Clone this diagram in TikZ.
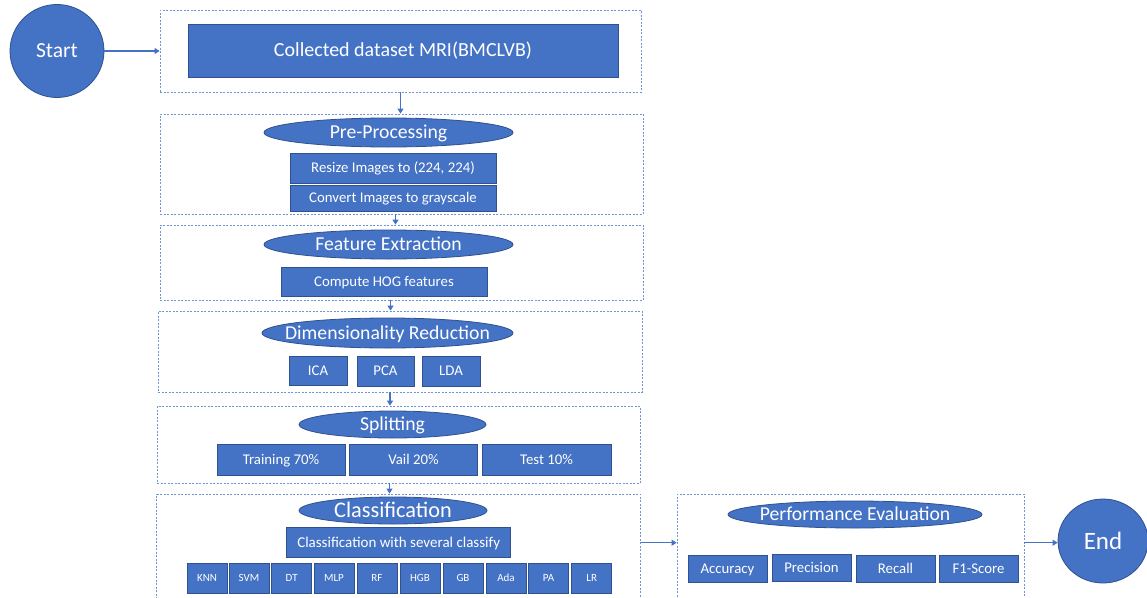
\documentclass[tikz,border=0pt]{standalone}
\usepackage{fontspec}
\setmainfont{Carlito}
\usetikzlibrary{shapes.geometric,arrows.meta}
\definecolor{ofblue}{HTML}{4472C4}
\definecolor{ofborder}{HTML}{2F528F}
\definecolor{dashblue}{HTML}{6F94D6}
\newcommand{\hdtext}[1]{\makebox[0pt]{#1}}
\tikzset{
  bluebox/.style={rectangle, fill=ofblue, draw=ofborder, line width=0.8pt, text=white, inner sep=0pt, text height=9.5pt, text depth=0pt, font=\fontsize{14.8}{16}\selectfont},
  header/.style={ellipse, fill=ofblue, draw=ofborder, line width=0.8pt, text=white, inner sep=0pt, text height=12.7pt, text depth=0pt, font=\fontsize{19.7}{22}\selectfont},
  groupbox/.style={rectangle, draw=dashblue, line width=0.8pt, dash pattern=on 2pt off 1.5pt, inner sep=0pt},
  flow/.style={draw=ofblue, line width=1.1pt, -{Triangle[width=6pt,length=5pt]}},
  clfbox/.style={bluebox, minimum width=40pt, minimum height=30pt, text height=7.1pt, font=\fontsize{11}{12}\selectfont},
}
\begin{document}
\begin{tikzpicture}[x=1pt,y=-1pt]
\useasboundingbox (0,0) rectangle (1147,597);
\clip (0,0) rectangle (1147,597);
\fill[white] (0,0) rectangle (1147,597);

% Start
\node[header, minimum width=94pt, minimum height=93pt, text height=13.8pt, font=\fontsize{21.5}{24}\selectfont] (start) at (57,51) {Start};

% Group 1
\node[groupbox, minimum width=481pt, minimum height=82pt] (g1) at (400.5,51) {};
\node[bluebox, minimum width=430pt, minimum height=53pt, text height=12.9pt, font=\fontsize{20}{22}\selectfont] (data) at (403,50.5) {Collected dataset MRI(BMCLVB)};

% Group 2
\node[groupbox, minimum width=483pt, minimum height=100pt] (g2) at (401.5,164) {};
\node[header, minimum width=249pt, minimum height=29pt] (pre) at (388.5,132.5) {\hdtext{Pre-Processing}};
\node[bluebox, minimum width=206pt, minimum height=30pt] (resize) at (393,168) {Resize Images to (224, 224)};
\node[bluebox, minimum width=206pt, minimum height=26pt] (convert) at (393,198) {Convert Images to grayscale};

% Group 3
\node[groupbox, minimum width=483pt, minimum height=75pt] (g3) at (401.5,262.5) {};
\node[header, minimum width=249pt, minimum height=29pt] (feat) at (388.5,244.5) {\hdtext{Feature Extraction}};
\node[bluebox, minimum width=206pt, minimum height=29pt] (hog) at (384,281.5) {Compute HOG features};

% Group 4
\node[groupbox, minimum width=484pt, minimum height=81pt] (g4) at (400,351.5) {};
\node[header, minimum width=251pt, minimum height=30pt] (dim) at (387.5,333) {\hdtext{Dimensionality Reduction}};
\node[bluebox, minimum width=58pt, minimum height=29pt] (ica) at (318,370.5) {ICA};
\node[bluebox, minimum width=57pt, minimum height=30pt] (pca) at (385.5,371) {PCA};
\node[bluebox, minimum width=58pt, minimum height=30pt] (lda) at (451,371) {LDA};

% Group 5
\node[groupbox, minimum width=483pt, minimum height=77pt] (g5) at (398.5,444.5) {};
\node[header, minimum width=187pt, minimum height=27pt] (split) at (392.5,424.5) {\hdtext{Splitting}};
\node[bluebox, minimum width=128pt, minimum height=31pt] (train) at (281,460) {Training 70\%};
\node[bluebox, minimum width=128pt, minimum height=31pt] (vail) at (413.5,460) {Vail 20\%};
\node[bluebox, minimum width=129pt, minimum height=31pt] (test) at (546.5,460) {Test 10\%};

% Group 6
\node[groupbox, minimum width=484pt, minimum height=126pt] (g6) at (398.5,557) {};
\node[header, minimum width=188pt, minimum height=27pt, text height=14.4pt, font=\fontsize{22.3}{24}\selectfont] (clf) at (393,510.5) {\hdtext{Classification}};
\node[bluebox, minimum width=224pt, minimum height=30pt, text height=9.7pt, font=\fontsize{15}{16}\selectfont] (several) at (398.7,542.7) {Classification with several classify};
\node[clfbox] (knn) at (207,578) {KNN};
\node[clfbox] (svm) at (249,578) {SVM};
\node[clfbox] (dt) at (291.7,578) {DT};
\node[clfbox] (mlp) at (334,578) {MLP};
\node[clfbox] (rf) at (377,578) {RF};
\node[clfbox] (hgb) at (420,578) {HGB};
\node[clfbox] (gb) at (463,578) {GB};
\node[clfbox] (ada) at (506,578) {Ada};
\node[clfbox] (pa) at (548.5,578) {PA};
\node[clfbox] (lr) at (591.7,578) {LR};

% Performance group
\node[groupbox, minimum width=347pt, minimum height=126pt] (gp) at (850.5,557) {};
\node[header, minimum width=254pt, minimum height=27pt] (perf) at (855,514.5) {\hdtext{Performance Evaluation}};
\node[bluebox, minimum width=79pt, minimum height=27pt] (acc) at (727.5,568.5) {Accuracy};
\node[bluebox, minimum width=79pt, minimum height=27pt] (prec) at (811.5,568) {Precision};
\node[bluebox, minimum width=79pt, minimum height=27pt] (rec) at (895.5,568.5) {Recall};
\node[bluebox, minimum width=79pt, minimum height=27pt] (f1) at (978.5,568.5) {F1-Score};

% End
\node[header, minimum width=90pt, minimum height=84pt, text height=16.1pt, font=\fontsize{25}{27}\selectfont] (endn) at (1103,541) {End};

% Connectors
\draw[flow] (start.east) -- (g1.west);
\draw[flow] (g1.south) -- (g1.south |- g2.north);
\draw[flow] ([xshift=-6pt]g2.south) -- ([xshift=-6pt]g2.south |- g3.north);
\draw[flow] ([xshift=-11pt]g3.south) -- ([xshift=-11pt]g3.south |- g4.north);
\draw[flow] ([xshift=-10pt]g4.south) -- ([xshift=-10pt]g4.south |- g5.north);
\draw[flow] ([xshift=-9pt]g5.south) -- ([xshift=-9pt]g5.south |- g6.north);
\draw[flow] (g6.east |- several.center) -- (gp.west |- several.center);
\draw[flow] (gp.east |- several.center) -- (endn.west |- several.center);
\end{tikzpicture}
\end{document}
